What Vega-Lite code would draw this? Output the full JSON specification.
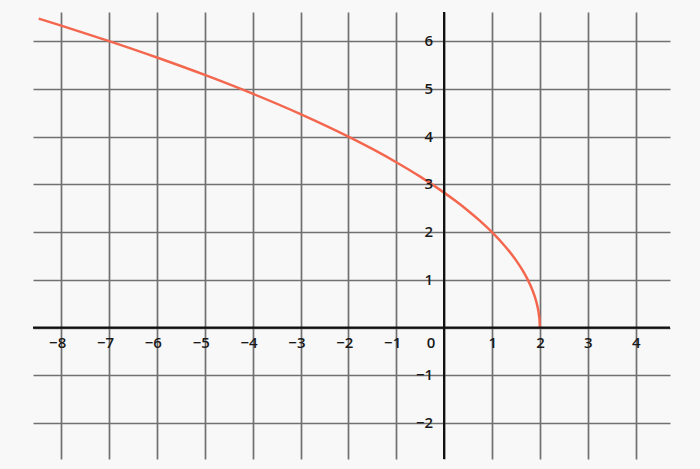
{
  "$schema": "https://vega.github.io/schema/vega-lite/v6.json",
  "autosize": "none",
  "width": 637,
  "height": 447,
  "padding": {"left": 33, "top": 12, "right": 30, "bottom": 10},
  "background": "#f8f8f8",
  "config": {"view": {"stroke": null}},
  "datasets": {
    "curve": [
      {"x": -8.47, "y": 6.471},
      {"x": -8, "y": 6.325},
      {"x": -7, "y": 6.0},
      {"x": -6, "y": 5.657},
      {"x": -5, "y": 5.292},
      {"x": -4, "y": 4.899},
      {"x": -3, "y": 4.472},
      {"x": -2, "y": 4.0},
      {"x": -1.5, "y": 3.742},
      {"x": -1, "y": 3.464},
      {"x": -0.5, "y": 3.162},
      {"x": 0, "y": 2.828},
      {"x": 0.25, "y": 2.646},
      {"x": 0.5, "y": 2.449},
      {"x": 0.75, "y": 2.236},
      {"x": 1, "y": 2.0},
      {"x": 1.25, "y": 1.732},
      {"x": 1.5, "y": 1.414},
      {"x": 1.65, "y": 1.183},
      {"x": 1.75, "y": 1.0},
      {"x": 1.85, "y": 0.775},
      {"x": 1.9, "y": 0.632},
      {"x": 1.95, "y": 0.447},
      {"x": 1.98, "y": 0.283},
      {"x": 1.995, "y": 0.141},
      {"x": 2, "y": 0}
    ],
    "xlabels": [
      {"v": -8, "t": "−8"}, {"v": -7, "t": "−7"}, {"v": -6, "t": "−6"},
      {"v": -5, "t": "−5"}, {"v": -4, "t": "−4"}, {"v": -3, "t": "−3"},
      {"v": -2, "t": "−2"}, {"v": -1, "t": "−1"}, {"v": 1, "t": "1"},
      {"v": 2, "t": "2"}, {"v": 3, "t": "3"}, {"v": 4, "t": "4"}
    ],
    "ylabels": [
      {"v": 6, "t": "6"}, {"v": 5, "t": "5"}, {"v": 4, "t": "4"},
      {"v": 3, "t": "3"}, {"v": 2, "t": "2"}, {"v": 1, "t": "1"},
      {"v": -1, "t": "−1"}, {"v": -2, "t": "−2"}
    ],
    "origin": [{"x": 0, "y": 0, "t": "0"}]
  },
  "layer": [
    {
      "data": {"name": "curve"},
      "mark": {"type": "line", "color": "#f4674f", "strokeWidth": 2.5, "interpolate": "monotone", "clip": true},
      "encoding": {
        "x": {
          "field": "x", "type": "quantitative",
          "scale": {"domain": [-8.59, 4.72], "nice": false, "zero": false},
          "axis": {"title": null, "labels": false, "ticks": false, "domain": false,
                   "grid": true, "values": [-8, -7, -6, -5, -4, -3, -2, -1, 0, 1, 2, 3, 4],
                   "gridColor": "#707070", "gridWidth": 1.7, "gridOpacity": 1}
        },
        "y": {
          "field": "y", "type": "quantitative",
          "scale": {"domain": [-2.75, 6.61], "nice": false, "zero": false},
          "axis": {"title": null, "labels": false, "ticks": false, "domain": false,
                   "grid": true, "values": [-2, -1, 0, 1, 2, 3, 4, 5, 6],
                   "gridColor": "#707070", "gridWidth": 1.7, "gridOpacity": 1}
        }
      }
    },
    {
      "data": {"name": "origin"},
      "mark": {"type": "rule", "color": "#111111", "strokeWidth": 2.2},
      "encoding": {"x": {"field": "x", "type": "quantitative"}}
    },
    {
      "data": {"name": "origin"},
      "mark": {"type": "rule", "color": "#111111", "strokeWidth": 2.2},
      "encoding": {"y": {"field": "y", "type": "quantitative"}}
    },
    {
      "data": {"name": "xlabels"},
      "mark": {"type": "text", "align": "right", "baseline": "middle", "dx": 5, "dy": 15,
               "font": "Open Sans", "fontSize": 15, "fontWeight": 600, "color": "#1a1a1a"},
      "encoding": {
        "x": {"field": "v", "type": "quantitative"},
        "y": {"datum": 0, "type": "quantitative"},
        "text": {"field": "t"}
      }
    },
    {
      "data": {"name": "ylabels"},
      "mark": {"type": "text", "align": "right", "baseline": "middle", "dx": -11, "dy": 0,
               "font": "Open Sans", "fontSize": 15, "fontWeight": 600, "color": "#1a1a1a"},
      "encoding": {
        "x": {"datum": 0, "type": "quantitative"},
        "y": {"field": "v", "type": "quantitative"},
        "text": {"field": "t"}
      }
    },
    {
      "data": {"name": "origin"},
      "mark": {"type": "text", "align": "center", "baseline": "middle", "dx": -13, "dy": 15,
               "font": "Open Sans", "fontSize": 15, "fontWeight": 600, "color": "#1a1a1a"},
      "encoding": {
        "x": {"field": "x", "type": "quantitative"},
        "y": {"field": "y", "type": "quantitative"},
        "text": {"field": "t"}
      }
    }
  ]
}
